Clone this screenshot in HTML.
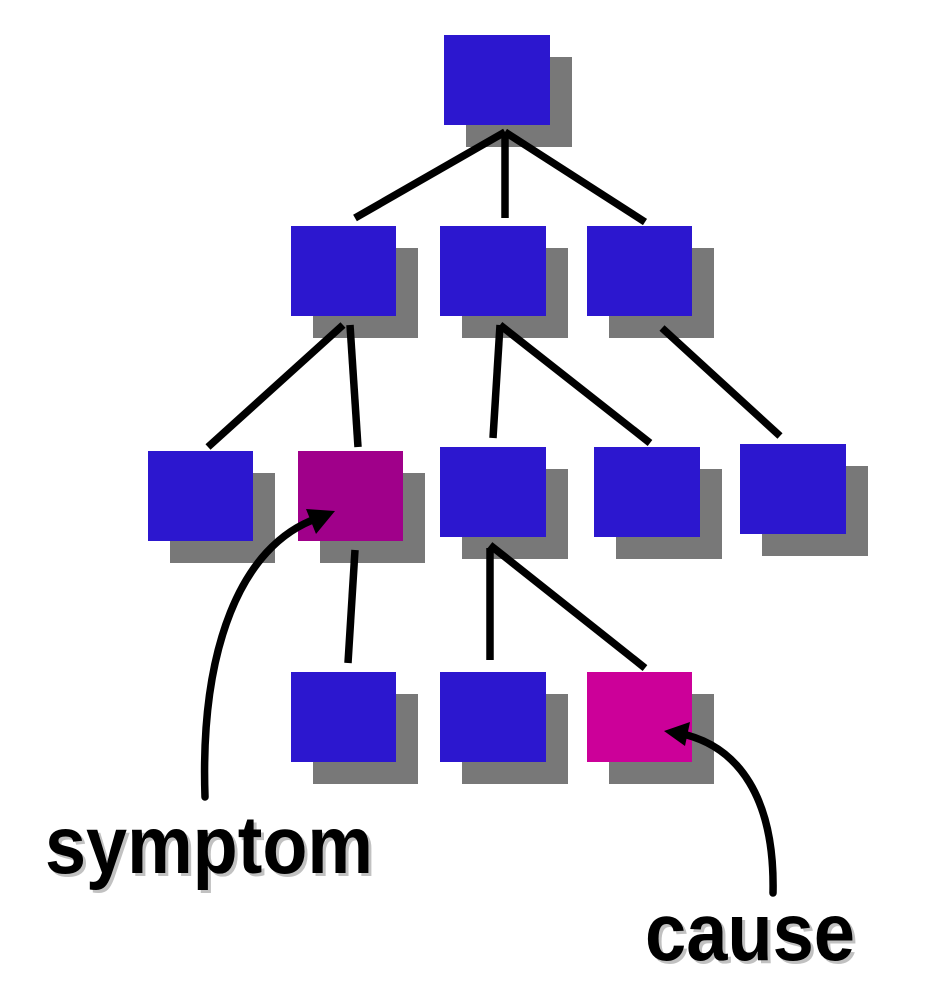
<!DOCTYPE html>
<html><head><meta charset="utf-8"><style>
html,body{margin:0;padding:0;background:#fff;}
svg{display:block;}
text{font-family:"Liberation Sans",Arial,sans-serif;font-weight:bold;font-size:82px;}
</style></head><body>
<svg width="940" height="1004" viewBox="0 0 940 1004" xmlns="http://www.w3.org/2000/svg">
<g fill="#787878">
<rect x="466" y="57" width="106" height="90"/>
<rect x="313" y="248" width="105" height="90"/>
<rect x="462" y="248" width="106" height="90"/>
<rect x="609" y="248" width="105" height="90"/>
<rect x="170" y="473" width="105" height="90"/>
<rect x="320" y="473" width="105" height="90"/>
<rect x="462" y="469" width="106" height="90"/>
<rect x="616" y="469" width="106" height="90"/>
<rect x="762" y="466" width="106" height="90"/>
<rect x="313" y="694" width="105" height="90"/>
<rect x="462" y="694" width="106" height="90"/>
<rect x="609" y="694" width="105" height="90"/>
</g>
<g fill="#2c17cf">
<rect x="444" y="35" width="106" height="90"/>
<rect x="291" y="226" width="105" height="90"/>
<rect x="440" y="226" width="106" height="90"/>
<rect x="587" y="226" width="105" height="90"/>
<rect x="148" y="451" width="105" height="90"/>
<rect x="440" y="447" width="106" height="90"/>
<rect x="594" y="447" width="106" height="90"/>
<rect x="740" y="444" width="106" height="90"/>
<rect x="291" y="672" width="105" height="90"/>
<rect x="440" y="672" width="106" height="90"/>
</g>
<rect x="298" y="451" width="105" height="90" fill="#a0008a"/>
<rect x="587" y="672" width="105" height="90" fill="#cc0099"/>
<g stroke="#000" stroke-width="7.5" fill="none">
<line x1="505" y1="132" x2="355" y2="218"/>
<line x1="505" y1="132" x2="505" y2="218"/>
<line x1="505" y1="132" x2="645" y2="222"/>
<line x1="343" y1="325" x2="208" y2="447"/>
<line x1="350" y1="325" x2="358" y2="447"/>
<line x1="500" y1="325" x2="493" y2="438"/>
<line x1="500" y1="325" x2="650" y2="443"/>
<line x1="662" y1="328" x2="780" y2="436"/>
<line x1="355" y1="550" x2="348" y2="663"/>
<line x1="490" y1="548" x2="490" y2="660"/>
<line x1="490" y1="545" x2="645" y2="668"/>
<path d="M205,797 C200,650 240,545 318,518" stroke-linecap="round"/>
<path d="M773,893 C775,800 740,745 678,733" stroke-linecap="round"/>
</g>
<polygon points="335,511 306,509 316,534" fill="#000"/>
<polygon points="664,731 690,722 685,746" fill="#000"/>
<g fill="#999" opacity="0.6">
<text x="48" y="876" textLength="328" lengthAdjust="spacingAndGlyphs">symptom</text>
<text x="648" y="963" textLength="210" lengthAdjust="spacingAndGlyphs">cause</text>
</g>
<g fill="#000">
<text x="45" y="873" textLength="328" lengthAdjust="spacingAndGlyphs">symptom</text>
<text x="645" y="960" textLength="210" lengthAdjust="spacingAndGlyphs">cause</text>
</g>
</svg>
</body></html>
